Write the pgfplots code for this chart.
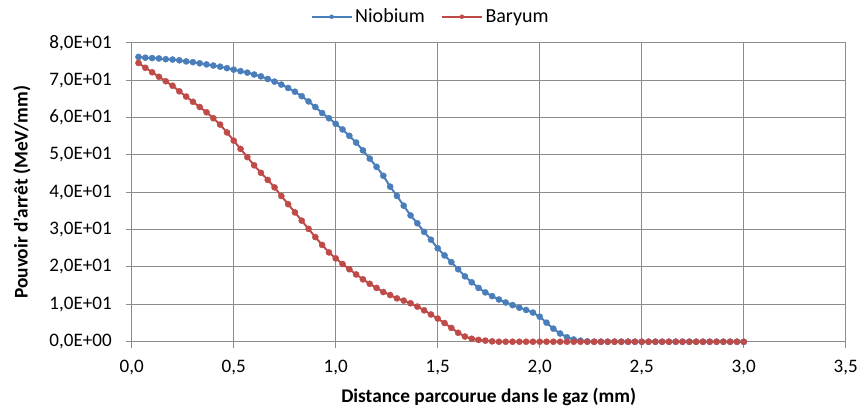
\documentclass[border=0pt]{standalone}
\usepackage{pgfplots}
\pgfplotsset{compat=1.18}
\usepackage{pgfplotstable}
\usepackage{fontspec}
\setmainfont{Carlito}
\definecolor{nbblue}{HTML}{4A7EBB}
\definecolor{bared}{HTML}{BE4B48}
\definecolor{gridgray}{HTML}{8C8C8C}

\pgfplotstableread{
x y
0.0333 76.2
0.0667 76.0
0.1000 75.9
0.1333 75.8
0.1667 75.6
0.2000 75.5
0.2333 75.3
0.2667 75.0
0.3000 74.8
0.3333 74.5
0.3667 74.2
0.4000 73.9
0.4333 73.6
0.4667 73.2
0.5000 72.8
0.5333 72.4
0.5667 72.0
0.6000 71.5
0.6333 71.0
0.6667 70.3
0.7000 69.6
0.7333 68.8
0.7667 67.9
0.8000 66.9
0.8333 65.7
0.8667 64.3
0.9000 62.8
0.9333 61.2
0.9667 59.8
1.0000 58.3
1.0333 56.8
1.0667 55.1
1.1000 53.3
1.1333 51.2
1.1667 49.0
1.2000 46.8
1.2333 44.4
1.2667 41.5
1.3000 39.0
1.3333 36.4
1.3667 33.8
1.4000 31.7
1.4333 29.4
1.4667 27.3
1.5000 25.0
1.5333 23.1
1.5667 21.3
1.6000 19.4
1.6333 17.5
1.6667 15.9
1.7000 14.4
1.7333 13.2
1.7667 12.2
1.8000 11.3
1.8333 10.5
1.8667 9.8
1.9000 9.1
1.9333 8.5
1.9667 7.8
2.0000 6.7
2.0333 5.1
2.0667 3.5
2.1000 2.2
2.1333 1.2
2.1667 0.6
2.2000 0.3
2.2333 0.1
2.2667 0.0
2.3000 0.0
2.3333 0.0
2.3667 0.0
2.4000 0.0
2.4333 0.0
2.4667 0.0
2.5000 0.0
2.5333 0.0
2.5667 0.0
2.6000 0.0
2.6333 0.0
2.6667 0.0
2.7000 0.0
2.7333 0.0
2.7667 0.0
2.8000 0.0
2.8333 0.0
2.8667 0.0
2.9000 0.0
2.9333 0.0
2.9667 0.0
3.0000 0.0
}\niobium

\pgfplotstableread{
x y
0.0333 74.6
0.0667 73.3
0.1000 72.1
0.1333 70.9
0.1667 69.7
0.2000 68.5
0.2333 67.0
0.2667 65.6
0.3000 64.2
0.3333 62.8
0.3667 61.4
0.4000 59.8
0.4333 58.1
0.4667 56.0
0.5000 53.8
0.5333 51.6
0.5667 49.4
0.6000 47.2
0.6333 45.2
0.6667 43.3
0.7000 41.3
0.7333 39.0
0.7667 36.8
0.8000 34.6
0.8333 32.4
0.8667 30.2
0.9000 28.0
0.9333 25.9
0.9667 23.9
1.0000 22.3
1.0333 20.8
1.0667 19.4
1.1000 18.0
1.1333 16.7
1.1667 15.5
1.2000 14.4
1.2333 13.3
1.2667 12.5
1.3000 11.6
1.3333 11.0
1.3667 10.3
1.4000 9.4
1.4333 8.4
1.4667 7.3
1.5000 6.2
1.5333 5.0
1.5667 3.7
1.6000 2.4
1.6333 1.4
1.6667 0.8
1.7000 0.5
1.7333 0.3
1.7667 0.1
1.8000 0.0
1.8333 0.0
1.8667 0.0
1.9000 0.0
1.9333 0.0
1.9667 0.0
2.0000 0.0
2.0333 0.0
2.0667 0.0
2.1000 0.0
2.1333 0.0
2.1667 0.0
2.2000 0.0
2.2333 0.0
2.2667 0.0
2.3000 0.0
2.3333 0.0
2.3667 0.0
2.4000 0.0
2.4333 0.0
2.4667 0.0
2.5000 0.0
2.5333 0.0
2.5667 0.0
2.6000 0.0
2.6333 0.0
2.6667 0.0
2.7000 0.0
2.7333 0.0
2.7667 0.0
2.8000 0.0
2.8333 0.0
2.8667 0.0
2.9000 0.0
2.9333 0.0
2.9667 0.0
3.0000 0.0
}\baryum

\begin{document}
\begin{tikzpicture}
\useasboundingbox (0,0) rectangle (644.25pt,306pt);
\begin{axis}[
  at={(98.8pt,49.7pt)}, anchor=south west,
  scale only axis,
  width=535.5pt, height=224.25pt,
  xmin=0, xmax=3.5, ymin=0, ymax=80,
  axis lines=left,
  axis line style={-, gridgray, line width=0.75pt},
  xtick={0,0.5,1,1.5,2,2.5,3,3.5},
  xticklabels={{0,0},{0,5},{1,0},{1,5},{2,0},{2,5},{3,0},{3,5}},
  ytick={0,10,20,30,40,50,60,70,80},
  yticklabels={{0,0E+00},{1,0E+01},{2,0E+01},{3,0E+01},{4,0E+01},{5,0E+01},{6,0E+01},{7,0E+01},{8,0E+01}},
  grid=major,
  major grid style={gridgray, line width=0.75pt},
  tick align=outside,
  major tick length=4.5pt,
  tick style={gridgray, line width=0.75pt},
  tick label style={font=\fontsize{14.3}{16}\selectfont, text=black},
  xticklabel style={yshift=-6pt},
  yticklabel style={xshift=-7pt},
  xlabel={Distance parcourue dans le gaz (mm)},
  ylabel={Pouvoir d'arrêt (MeV/mm)},
  every axis x label/.style={at={(axis description cs:0.5,0)}, anchor=center, yshift=-41.5pt, font=\bfseries\fontsize{14.5}{16}\selectfont},
  every axis y label/.style={at={(axis description cs:-0.1537,0.5)}, rotate=90, anchor=center, font=\bfseries\fontsize{14.5}{16}\selectfont},
  legend style={at={(axis description cs:0.419,1.087)}, anchor=center, draw=none, fill=none,
    legend columns=2, font=\fontsize{15}{17}\selectfont,
    /tikz/every even column/.append style={column sep=10pt}},
  legend image code/.code={
    \draw[#1, mark=none] (0pt,0pt) -- (30pt,0pt);
    \draw[#1, only marks, mark size=1.5pt] plot coordinates {(15pt,0pt)};
  },
  clip=false,
]
\addplot[color=nbblue, line width=1.5pt, mark=*, mark size=2.3pt, mark options={solid, fill=nbblue, draw=nbblue, line width=0.3pt}] table[x=x,y=y] {\niobium};
\addlegendentry{Niobium}
\addplot[color=bared, line width=1.5pt, mark=*, mark size=2.3pt, mark options={solid, fill=bared, draw=bared, line width=0.3pt}] table[x=x,y=y] {\baryum};
\addlegendentry{Baryum}
\end{axis}
\end{tikzpicture}
\end{document}
